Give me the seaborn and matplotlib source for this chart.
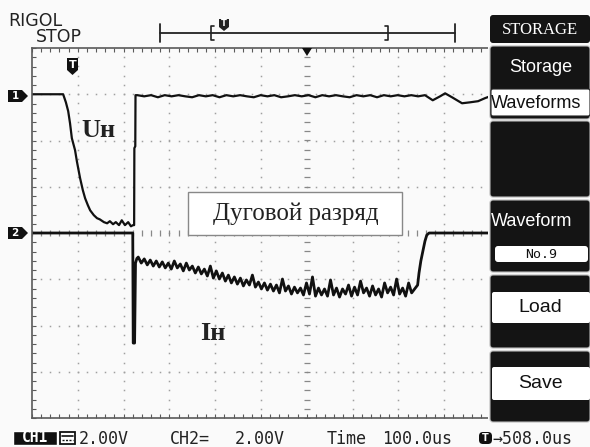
import numpy as np
import pandas as pd
import seaborn as sns
import matplotlib
matplotlib.use("Agg")
import matplotlib.pyplot as plt
from matplotlib.patches import Polygon, Rectangle, FancyBboxPatch
from matplotlib.ticker import MultipleLocator

# ---- scope settings ----
VOLTS_PER_DIV = 2.0          # CH1 and CH2: 2.00 V/div
US_PER_DIV = 100.0           # time base: 100.0 us/div
CH1_OFFSET_DIV = 3.0         # CH1 ground marker
CH2_OFFSET_DIV = 0.0         # CH2 ground marker

# ---- CH1: arc voltage Uн (V) ----
u_head_t = [0, 68, 74, 79, 83, 87, 94, 98, 105, 111, 116, 122, 127, 135, 142, 148,
            157, 164, 170, 177, 183, 190, 196, 203, 210, 216, 220.5, 223, 223.5, 225.5, 226]
u_head_v = [0, 0, -0.35, -0.73, -1.25, -1.90, -2.42, -2.90, -3.63, -4.15, -4.50, -4.80,
            -5.02, -5.23, -5.36, -5.41, -5.53, -5.58, -5.49, -5.62, -5.53, -5.66, -5.45,
            -5.66, -5.53, -5.71, -5.66, -5.66, -2.33, -2.25, -0.04]
u_flat_v = [-0.04, -0.09, -0.04, -0.13, -0.04, -0.09, -0.04, -0.09, -0.13, -0.04, -0.09,
            -0.04, -0.13, -0.04, -0.09, -0.04, -0.09, -0.13, -0.04, -0.09, -0.04, -0.13,
            -0.09, -0.04, -0.09, -0.04, -0.13, -0.04, -0.09, -0.04, -0.09, -0.13, -0.04,
            -0.09, -0.04, -0.13, -0.04, -0.09, -0.04, -0.09, -0.04, -0.09, -0.04]
u_flat_span = (230, 858)
u_tail_t = [875, 891, 902, 917, 939, 956, 974, 989, 1000]
u_tail_v = [-0.26, -0.09, 0.04, -0.13, -0.39, -0.35, -0.30, -0.17, -0.09]

# ---- CH2: arc current signal Iн (V) ----
i_head_t = [0, 220, 221, 224, 226, 229]
i_head_v = [0, 0, -4.76, -4.76, -1.30, -1.10]
i_arc_v = [-1.04, -1.30, -1.12, -1.38, -1.17, -1.43, -1.21, -1.47, -1.25, -1.51, -1.30,
           -1.56, -1.21, -1.51, -1.34, -1.64, -1.30, -1.60, -1.43, -1.73, -1.47, -1.77,
           -1.56, -1.86, -1.43, -1.95, -1.64, -1.99, -1.73, -2.08, -1.82, -2.16, -1.90,
           -2.21, -1.95, -2.29, -2.03, -2.25, -1.82, -2.34, -2.12, -2.42, -2.16, -2.47,
           -2.21, -2.51, -2.25, -2.59, -1.99, -2.51, -2.29, -2.64, -2.34, -2.59, -2.38,
           -2.68, -2.16, -2.64, -1.90, -2.73, -2.38, -2.68, -2.42, -2.73, -2.03, -2.68,
           -2.38, -2.77, -2.42, -2.64, -2.25, -2.73, -2.34, -2.68, -2.08, -2.59, -2.38,
           -2.73, -2.29, -2.68, -2.42, -2.77, -2.16, -2.59, -2.34, -2.68, -1.99, -2.64,
           -2.38, -2.73, -2.16, -2.59, -2.42, -2.25]
i_arc_span = (232, 842)
i_tail_t = [845, 849, 854, 858, 862, 867, 1000]
i_tail_v = [-1.73, -1.21, -0.73, -0.35, -0.09, 0, 0]

u_t = np.concatenate([u_head_t, np.linspace(*u_flat_span, len(u_flat_v)), u_tail_t])
u_v = np.concatenate([u_head_v, u_flat_v, u_tail_v])
i_t = np.concatenate([i_head_t, np.linspace(*i_arc_span, len(i_arc_v)), i_tail_t])
i_v = np.concatenate([i_head_v, i_arc_v, i_tail_v])

df_u = pd.DataFrame({"t": u_t, "y": CH1_OFFSET_DIV + u_v / VOLTS_PER_DIV})
df_i = pd.DataFrame({"t": i_t, "y": CH2_OFFSET_DIV + i_v / VOLTS_PER_DIV})

# ---- figure ----
W, H = 590, 447
BG = "#fafafa"
sns.set_style("white")
plt.rcParams["font.family"] = ["DejaVu Sans"]

fig = plt.figure(figsize=(W / 100, H / 100), dpi=100, facecolor=BG)
ax = fig.add_axes([32 / W, 1 - 418 / H, (490 - 32) / W, (418 - 48) / H])
ax.set_facecolor(BG)
ax.set_xlim(0, 10 * US_PER_DIV)
ax.set_ylim(-4, 4)

# graticule: dotted division lines, ticked centre cross
grid_col = "#a0a0a0"
minor_x = np.arange(0, 1000.1, US_PER_DIV / 5)
minor_y = np.arange(-4, 4.01, 0.2)
for gx in np.arange(100, 1000, 100):
    if gx == 600:
        continue
    ax.plot(np.full_like(minor_y, gx), minor_y, ls="none", marker="s", ms=1.1,
            color=grid_col, mew=0)
for gy in np.arange(-3, 4, 1):
    if gy == 0:
        continue
    ax.plot(minor_x, np.full_like(minor_x, gy), ls="none", marker="s", ms=1.1,
            color=grid_col, mew=0)
ax.plot(np.full_like(minor_y, 600), minor_y, ls="none", marker="_", ms=4,
        color="#888", mew=0.9)
ax.plot(minor_x, np.zeros_like(minor_x), ls="none", marker="|", ms=4,
        color="#888", mew=0.9)

for side in ["left", "top", "bottom"]:
    ax.spines[side].set_color("#5a5a5a")
    ax.spines[side].set_linewidth(1.2)
ax.spines["right"].set_visible(False)
ax.xaxis.set_major_locator(MultipleLocator(US_PER_DIV / 5))
ax.yaxis.set_major_locator(MultipleLocator(0.2))
ax.tick_params(direction="in", length=3, width=0.8, color="#5a5a5a",
               top=True, bottom=True, left=True, right=False,
               labelbottom=False, labelleft=False)

sns.lineplot(data=df_u, x="t", y="y", sort=False, estimator=None, color="#111",
             lw=1.6, ax=ax)
sns.lineplot(data=df_i, x="t", y="y", sort=False, estimator=None, color="#111",
             lw=2.0, ax=ax)
ax.set_xlabel("")
ax.set_ylabel("")

# ---- overlay in pixel coordinates ----
ov = fig.add_axes([0, 0, 1, 1], zorder=5)
ov.set_xlim(0, W)
ov.set_ylim(H, 0)
ov.axis("off")
ov.patch.set_alpha(0)

def poly(pts, fc="black", ec="none", lw=1.0):
    ov.add_patch(Polygon(pts, closed=True, fc=fc, ec=ec, lw=lw))

def box(x, y, w, h, fc, ec="none", lw=0.8, r=3):
    ov.add_patch(FancyBboxPatch((x, y), w, h, boxstyle=f"round,pad=0,rounding_size={r}",
                                fc=fc, ec=ec, lw=lw))

# header
ov.text(8, 26, "RIGOL", fontsize=12.5, color="#222", va="baseline")
ov.text(36, 42, "STOP", fontsize=12.5, color="#222", va="baseline")
ov.plot([160, 455], [33, 33], color="#222", lw=1.3)
ov.plot([160, 160], [24, 42], color="#222", lw=1.3)
ov.plot([455, 455], [24, 42], color="#222", lw=1.3)
ov.plot([214, 211, 211, 214], [26, 26, 40, 40], color="#222", lw=1.2)
ov.plot([385, 388, 388, 385], [26, 26, 40, 40], color="#222", lw=1.2)
poly([(219, 19), (229, 19), (229, 27), (224, 31), (219, 27)], fc="#222")
ov.text(224, 24, "T", fontsize=6, color="white", ha="center", va="center", weight="bold")
poly([(302, 48), (312, 48), (307, 56)], fc="#111")

# trigger and channel markers
poly([(67, 58), (78, 58), (78, 70), (72.5, 75), (67, 70)], fc="#111")
ov.text(72.5, 65, "T", fontsize=8, color="white", ha="center", va="center", weight="bold")
for yc, lab in [(96, "1"), (233, "2")]:
    poly([(8, yc - 6), (22, yc - 6), (28, yc), (22, yc + 6), (8, yc + 6)], fc="#111")
    ov.text(15, yc, lab, fontsize=7.5, color="white", ha="center", va="center",
            weight="bold")

# trace labels
serif = ["Liberation Serif", "DejaVu Serif"]
ov.text(81, 137, "Uн", fontsize=19, weight="bold", family=serif, va="baseline",
        color="#222")
ov.text(200, 340, "Iн", fontsize=19, weight="bold", family=serif, va="baseline",
        color="#222")
ov.add_patch(Rectangle((188, 192), 214, 43, fc="white", ec="#888", lw=1.0))
ov.text(296, 214, "Дуговой разряд", fontsize=18, family=serif, ha="center",
        va="center", color="#222")

# soft-key menu
ov.add_patch(Rectangle((488, 0), 102, 447, fc=BG, ec="none"))
sans = ["Liberation Sans", "DejaVu Sans"]
box(490, 15, 100, 28, "#141414")
ov.text(540, 30, "STORAGE", fontsize=12, family=serif, color="white", ha="center",
        va="center")
box(490, 46, 100, 73, "#141414", ec="#bbb")
ov.text(541, 68, "Storage", fontsize=13, family=sans, color="white", ha="center",
        va="center")
box(491, 89, 99, 27, "white", ec="#222", r=2)
ov.text(491, 103, "Waveforms", fontsize=13, family=sans, color="#111", ha="left",
        va="center", clip_on=True)
box(490, 121, 100, 76, "#141414", ec="#bbb")
box(490, 200, 100, 72, "#141414", ec="#bbb")
ov.text(491, 222, "Waveform", fontsize=13, family=sans, color="white", ha="left",
        va="center")
box(495, 246, 93, 16, "white", r=3)
ov.text(541, 254, "No.9", fontsize=9.5, family=["DejaVu Sans Mono"], color="#111",
        ha="center", va="center")
box(490, 275, 100, 73, "#141414", ec="#bbb")
box(492, 292, 98, 31, "white", r=2)
ov.text(540, 308, "Load", fontsize=14, family=sans, color="#111", ha="center",
        va="center")
box(490, 351, 100, 71, "#141414", ec="#bbb")
box(492, 367, 98, 33, "white", r=2)
ov.text(540, 384, "Save", fontsize=14, family=sans, color="#111", ha="center",
        va="center")

# status line
mono = ["DejaVu Sans Mono"]
ov.add_patch(Rectangle((13, 431), 44, 14, fc="#111"))
ov.text(35, 438, "CH1", fontsize=10.5, family=mono, color="white", ha="center",
        va="center", weight="bold")
ov.add_patch(Rectangle((60, 432), 15, 12, fc="white", ec="#111", lw=1.3))
ov.plot([62, 73], [436, 436], color="#111", lw=1.2)
ov.plot([62, 73], [440, 440], color="#111", lw=1.0, ls=(0, (1.5, 1)))
status = [(79, "2.00V"), (170, "CH2="), (235, "2.00V"), (327, "Time"),
          (382, "100.0us"), (492, "→508.0us")]
for x, s in status:
    ov.text(x, 444, s, fontsize=12, family=mono, color="#222", va="baseline")
box(479, 432, 13, 12, "#111", r=4)
ov.text(485.5, 438, "T", fontsize=7, color="white", ha="center", va="center",
        weight="bold")

fig.savefig("out.png", dpi=100, facecolor=BG)
